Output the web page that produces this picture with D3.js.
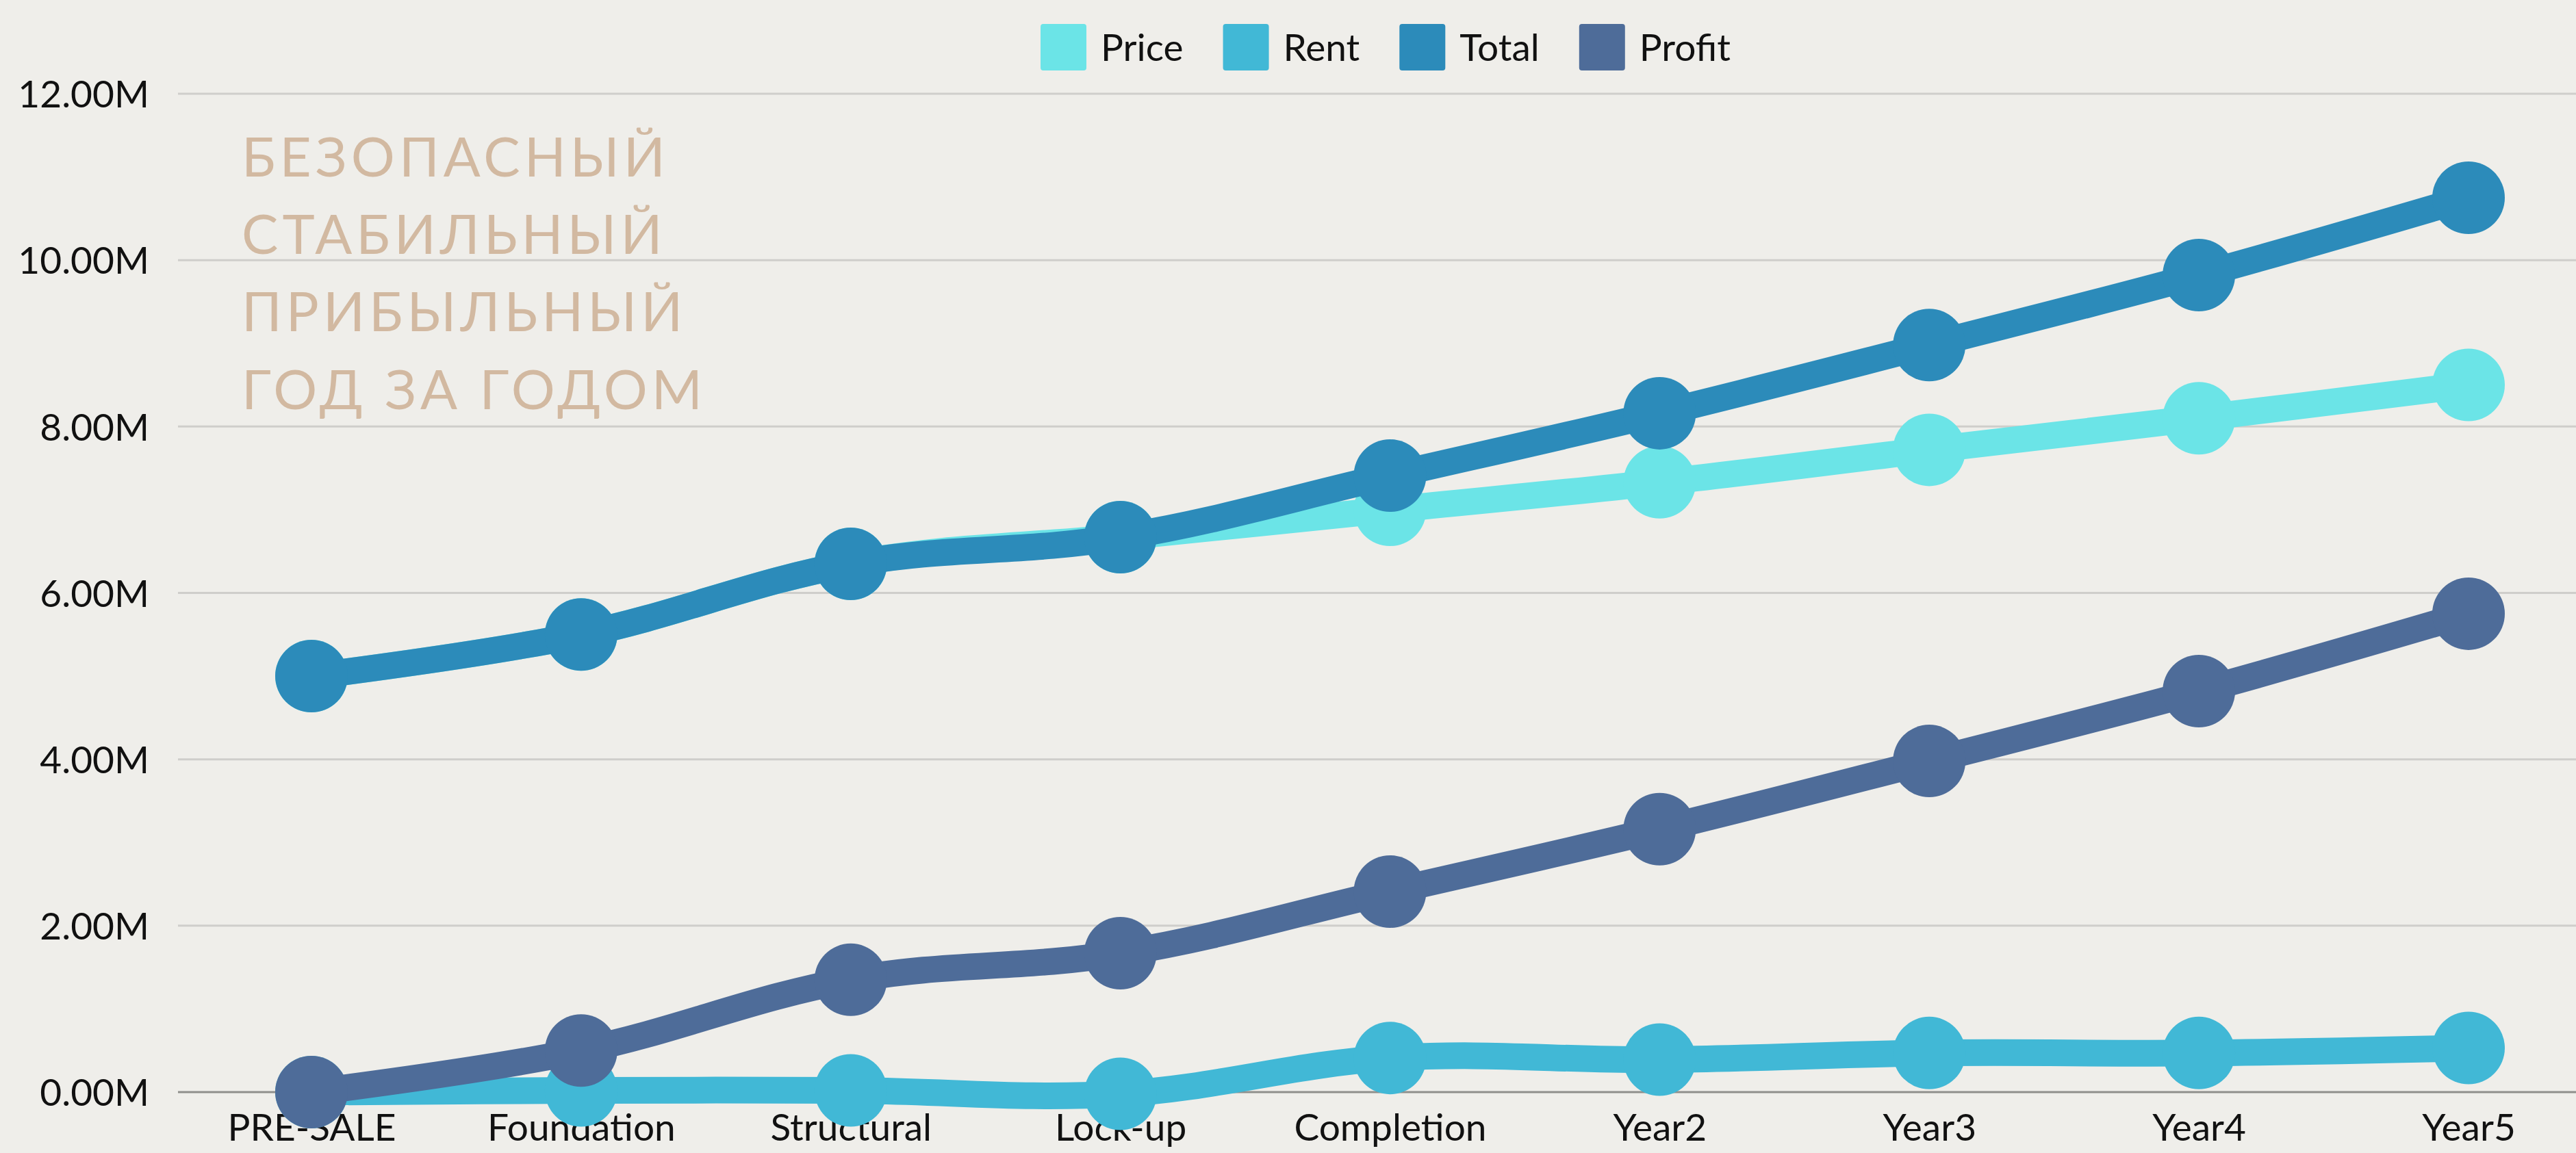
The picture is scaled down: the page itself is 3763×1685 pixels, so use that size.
<!DOCTYPE html>
<html>
<head>
<meta charset="utf-8">
<script src="https://cdnjs.cloudflare.com/ajax/libs/d3/7.8.5/d3.min.js"></script>
<style>
  html, body { margin: 0; padding: 0; background: #efeeea; }
  svg { display: block; }
  text { font-family: Lato, "Open Sans", sans-serif; }
</style>
</head>
<body>
<svg id="chart" width="3763" height="1685"></svg>
<script>
// ---- data ----
const categories = ["PRE-SALE", "Foundation", "Structural", "Lock-up", "Completion", "Year2", "Year3", "Year4", "Year5"];
const seriesNames = ["Price", "Rent", "Total", "Profit"];
const priceValues  = [5000000, 5500000, 6350000, 6670000, 7000000, 7330000, 7720000, 8100000, 8500000];
const rentValues   = [0, 20000, 20000, -20000, 410000, 390000, 470000, 470000, 530000];
const totalValues  = [5000000, 5500000, 6350000, 6670000, 7410000, 8160000, 8980000, 9820000, 10750000];
const profitValues = [0, 500000, 1350000, 1670000, 2410000, 3160000, 3980000, 4820000, 5750000];
const yTicks = [0, 2000000, 4000000, 6000000, 8000000, 10000000, 12000000];
const overlayLines = ["БЕЗОПАСНЫЙ", "СТАБИЛЬНЫЙ", "ПРИБЫЛЬНЫЙ", "ГОД ЗА ГОДОМ"];

// ---- styles ----
const colors = { Price: "#6be4e7", Rent: "#41b8d6", Total: "#2c8bba", Profit: "#4e6c99" };
const seriesData = { Price: priceValues, Rent: rentValues, Total: totalValues, Profit: profitValues };

const svg = d3.select("#chart");
const W = 3763, H = 1685;

const x = d3.scalePoint().domain(categories).range([455, 3606]);
const y = d3.scaleLinear().domain([0, 12000000]).range([1596, 137]);

// grid
svg.append("g").selectAll("line").data(yTicks.filter(d => d !== 0)).join("line")
  .attr("x1", 260).attr("x2", W)
  .attr("y1", d => y(d)).attr("y2", d => y(d))
  .attr("stroke", "#cfcecb").attr("stroke-width", 3);

// y axis labels
const yAxis = d3.axisLeft(y).tickValues(yTicks).tickSize(0).tickPadding(0)
  .tickFormat(d => (d / 1e6).toFixed(2) + "M");
const yg = svg.append("g").attr("transform", "translate(218,0)").call(yAxis);
yg.select(".domain").remove();
yg.selectAll("text").attr("font-size", 55).attr("fill", "#111").attr("font-family", "Lato")
  .attr("dy", "0.36em");

// zero line
svg.append("line").attr("x1", 260).attr("x2", W).attr("y1", y(0)).attr("y2", y(0))
  .attr("stroke", "#8f8f8c").attr("stroke-width", 3);

// x axis labels
const xAxis = d3.axisBottom(x).tickSize(0).tickPadding(0);
const xg = svg.append("g").attr("transform", "translate(0,1667)").call(xAxis);
xg.select(".domain").remove();
xg.selectAll("text").attr("font-size", 55).attr("fill", "#111").attr("font-family", "Lato")
  .attr("dy", 0);

// overlay text
svg.append("g").selectAll("text").data(overlayLines).join("text")
  .attr("x", 353).attr("y", (d, i) => 258 + i * 113.2)
  .attr("font-size", 80).attr("letter-spacing", "6px")
  .attr("fill", "#d2b9a1").attr("font-family", "Lato")
  .text(d => d);

// lines & markers
const line = d3.line()
  .x((d, i) => x(categories[i]))
  .y(d => y(d))
  .curve(d3.curveCardinal.tension(-0.1));

seriesNames.forEach(name => {
  const g = svg.append("g");
  g.append("path").datum(seriesData[name])
    .attr("d", line).attr("fill", "none")
    .attr("stroke", colors[name]).attr("stroke-width", 39)
    .attr("stroke-linejoin", "round").attr("stroke-linecap", "round");
  g.selectAll("circle").data(seriesData[name]).join("circle")
    .attr("cx", (d, i) => x(categories[i])).attr("cy", d => y(d))
    .attr("r", 53).attr("fill", colors[name]);
});

// legend
const legend = svg.append("g");
let cx = 0;
seriesNames.forEach(name => {
  const it = legend.append("g").attr("transform", `translate(${cx},0)`);
  it.append("rect").attr("x", 0).attr("y", 35).attr("width", 67).attr("height", 68)
    .attr("rx", 4).attr("fill", colors[name]);
  const t = it.append("text").attr("x", 88).attr("y", 89).attr("font-size", 55)
    .attr("fill", "#111").attr("font-family", "Lato").text(name);
  const w = t.node().getComputedTextLength();
  cx += 88 + w + 58;
});
const legendWidth = cx - 58;
legend.attr("transform", `translate(${2024 - legendWidth / 2},0)`);
</script>
</body>
</html>
